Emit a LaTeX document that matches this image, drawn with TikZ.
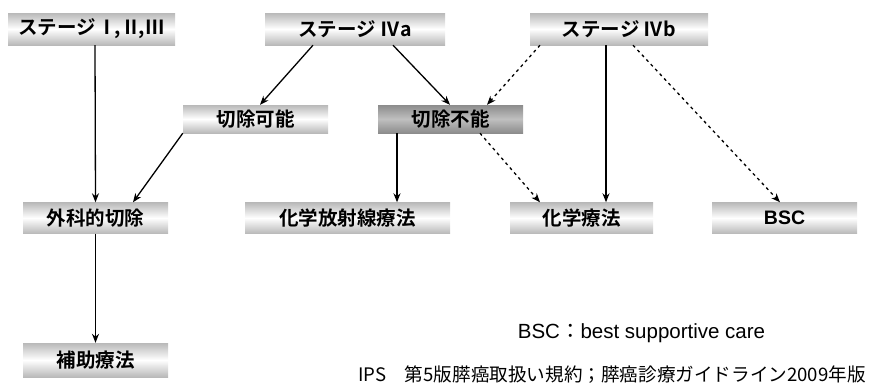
\documentclass[tikz,border=0pt]{standalone}
\usepackage{fontspec}
\setmainfont{Liberation Sans}
\newfontfamily\jp{Noto Sans CJK JP}
\newfontfamily\jpb{Noto Sans CJK JP Bold}
\usetikzlibrary{arrows.meta}
\tikzset{
  stage/.style={rectangle, inner sep=0pt, minimum height=#1,
    top color=gray!55, bottom color=gray!55, middle color=white,
    font=\jpb\fontsize{19.5}{19.5}\selectfont, text=black},
  stage/.default=32,
  darkstage/.style={rectangle, inner sep=0pt, minimum height=28,
    top color=gray!90, bottom color=gray!90, middle color=gray!50,
    font=\jpb\fontsize{19.5}{19.5}\selectfont, text=black},
  arr/.style={-{Stealth[length=9pt,width=7pt]}, line width=1.3pt, black},
  darr/.style={arr, dash pattern=on 3pt off 3.5pt},
  note/.style={inner sep=0pt, anchor=center}
}
\begin{document}
\begin{tikzpicture}[x=1pt,y=1pt]
\useasboundingbox (0,0) rectangle (872,-383);
% top row
\node[stage, minimum width=167] (s123) at (91.5,-29) {ステージ\kern2pt Ⅰ\kern-3pt,\kern1pt Ⅱ\kern-3pt,\kern1pt Ⅲ};
\node[stage, minimum width=180] (s4a) at (355,-29) {ステージ Ⅳa};
\node[stage, minimum width=178] (s4b) at (619,-29) {ステージ Ⅳb};
% second row
\node[stage=28, minimum width=145] (res) at (255.5,-119) {切除可能};
\node[darkstage, minimum width=145] (unres) at (450.5,-119) {切除不能};
% third row
\node[stage=31, minimum width=145] (surg) at (95.5,-218) {外科的切除};
\node[stage=31, minimum width=205] (crt) at (347.5,-218) {化学放射線療法};
\node[stage=31, minimum width=143] (chemo) at (581.5,-218) {化学療法};
\node[stage=31, minimum width=145] (bsc) at (784.5,-218) {\bfseries\fontspec{Liberation Sans}BSC};
% fourth row
\node[stage=34, minimum width=145] (adj) at (95.5,-360) {補助療法};
% notes
\node[note, font=\fontsize{20.5}{20.5}\selectfont] (n1) at (641.5,-333) {BSC{\jp ：}best supportive care};
\node[note, font=\jp\fontsize{18.6}{18.6}\selectfont, anchor=west] (n2) at (358,-375) {IPS　第5版膵癌取扱い規約；膵癌診療ガイドライン2009年版};
% connectors
\draw[arr] ([xshift=3.5pt]s123.south) -- (surg.north);
\draw[arr] ([xshift=-42pt]s4a.south) -- ([xshift=4.5pt]res.north);
\draw[arr] ([xshift=38pt]s4a.south) -- ([xshift=-0.5pt]unres.north);
\draw[darr] ([xshift=-79pt]s4b.south) -- ([xshift=36.5pt]unres.north);
\draw[arr] ([xshift=-13pt]s4b.south) -- ([xshift=24.5pt]chemo.north);
\draw[darr] ([xshift=14pt]s4b.south) -- ([xshift=-4.5pt]bsc.north);
\draw[arr] (res.south west) -- ([xshift=37.5pt]surg.north);
\draw[arr] ([xshift=-53.5pt]unres.south) -- ([xshift=49.5pt]crt.north);
\draw[darr] ([xshift=29.5pt]unres.south) -- ([xshift=-41.5pt]chemo.north);
\draw[arr] (surg.south) -- (adj.north);
\end{tikzpicture}
\end{document}
